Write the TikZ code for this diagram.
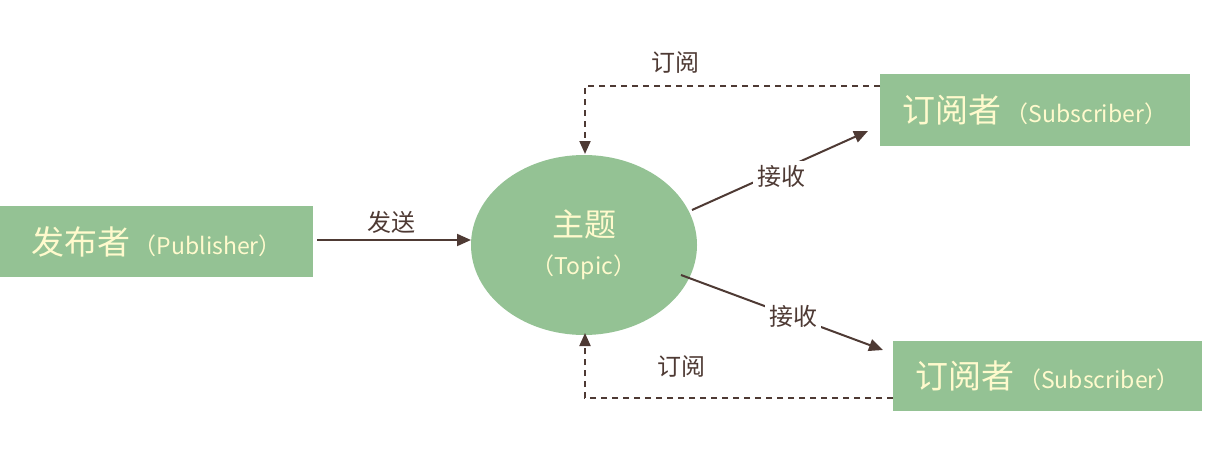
\documentclass[tikz,border=0pt]{standalone}
\usepackage{fontspec}
\newfontfamily\cjk{Noto Sans CJK SC}
\usetikzlibrary{arrows.meta,shapes.geometric}
\definecolor{boxgreen}{RGB}{148,194,148}
\definecolor{cream}{RGB}{255,250,205}
\definecolor{ink}{RGB}{78,58,52}
\newcommand{\latinpart}[1]{{\fontsize{23}{26}\selectfont\,（#1）}}
\begin{document}
\begin{tikzpicture}[x=1pt,y=-1pt,
  greenbox/.style={fill=boxgreen,draw=none,inner sep=0pt,text=cream,font=\cjk\fontsize{33}{36}\selectfont},
  flow/.style={draw=ink,line width=2pt,-{Triangle[length=14pt,width=12pt]}},
  sub/.style={draw=ink,line width=2pt,dash pattern=on 6pt off 5pt,-{Triangle[length=13pt,width=11pt]}},
  plain/.style={text=ink,font=\cjk\fontsize{24}{28}\selectfont},
  lbl/.style={plain,fill=white,inner sep=4pt}]
\useasboundingbox (0,0) rectangle (1210,460);
% boxes
\node[greenbox,minimum width=313pt,minimum height=71pt] (pub) at (156.5,241.5) {发布者\latinpart{Publisher}};
\node[ellipse,fill=boxgreen,minimum width=226pt,minimum height=180pt,inner sep=0pt,text=cream,font=\cjk\fontsize{32}{36}\selectfont,align=center] (topic) at (584,245) {主题\\[2pt]{\fontsize{23}{28}\selectfont（Topic）}};
\node[greenbox,minimum width=310pt,minimum height=72pt] (s1) at (1035,110) {订阅者\latinpart{Subscriber}};
\node[greenbox,minimum width=309pt,minimum height=70pt] (s2) at (1047.5,376) {订阅者\latinpart{Subscriber}};
% anchor points
\coordinate (pubR) at (317,240);
\coordinate (topL) at (471,240);
\coordinate (s1L) at (880,86);
\coordinate (c1) at (585,86);
\coordinate (tTop) at (585,154);
\coordinate (s2L) at (893,398);
\coordinate (c2) at (585,398);
\coordinate (tBot) at (585,333);
\coordinate (r1a) at (692,210);
\coordinate (r1b) at (868,131);
\coordinate (r2a) at (681,275);
\coordinate (r2b) at (883,350);
% publish
\draw[flow] (pubR) -- (topL);
\node[plain] (send) at (391,222) {发送};
% subscriptions
\draw[sub] (s1L) -- (c1) -- (tTop);
\node[plain] (sublbl1) at (675,63) {订阅};
\draw[sub] (s2L) -- (c2) -- (tBot);
\node[plain] (sublbl2) at (681,367) {订阅};
% deliveries
\draw[flow] (r1a) -- (r1b);
\node[lbl] (recv1) at (781,176) {接收};
\draw[flow] (r2a) -- (r2b);
\node[lbl] (recv2) at (793,316) {接收};
\end{tikzpicture}
\end{document}
